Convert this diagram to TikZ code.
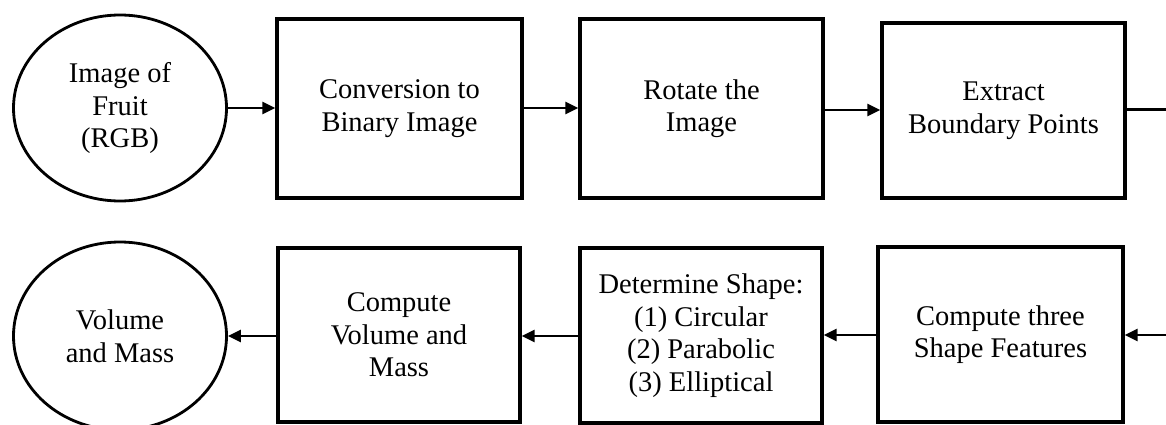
\documentclass[tikz,border=0pt]{standalone}
\usepackage{fontspec}
\setmainfont{Liberation Serif}
\usetikzlibrary{shapes.geometric,arrows.meta}

\begin{document}
\begin{tikzpicture}[x=1pt,y=-1pt,
  every node/.style={font=\fontsize{28.5}{32.5}\selectfont, align=center, inner sep=0pt},
  stepbox/.style={draw, line width=3.4pt, rectangle},
  terminal/.style={draw, line width=2.8pt, ellipse},
  flow/.style={line width=2.8pt, -{Triangle[length=13pt,width=12pt]}}
]
\useasboundingbox (0,0) rectangle (1166,425);

% upper row, left to right
\node[terminal, minimum width=213pt, minimum height=186pt] (img) at (120,108) {Image of\\Fruit\\(RGB)};
\node[stepbox, minimum width=245pt, minimum height=179pt] (conv) at (399.5,108.5) {Conversion to\\Binary Image};
\node[stepbox, minimum width=243pt, minimum height=179pt] (rot) at (701.5,108.5) {Rotate the\\Image};
\node[stepbox, minimum width=243pt, minimum height=175pt] (ext) at (1003.5,110.5) {Extract\\Boundary Points};

% lower row, right to left
\node[stepbox, minimum width=245pt, minimum height=175pt] (feat) at (1000.5,334.5) {Compute three\\Shape Features};
\node[stepbox, minimum width=242pt, minimum height=175pt] (det) at (701,335.5) {Determine Shape:\\(1) Circular\\(2) Parabolic\\(3) Elliptical};
\node[stepbox, minimum width=242pt, minimum height=174pt] (comp) at (399,335) {Compute\\Volume and\\Mass};
\node[terminal, minimum width=213pt, minimum height=188pt] (vm) at (120,336) {Volume\\and Mass};

% loose ends at the right border
\coordinate (outR) at (1166,109.5);
\coordinate (inR) at (1166,335);

% connectors
\draw[flow] (img.east) -- (conv.west |- img.east);
\draw[flow] (conv.east |- 0,108) -- (rot.west |- 0,108);
\draw[flow] (rot.east |- 0,110) -- (ext.west |- 0,110);
\draw[line width=2.2pt] (ext.east |- outR) -- (outR);
\draw[flow] (inR) -- (feat.east |- inR);
\draw[flow] (feat.west |- inR) -- (det.east |- inR);
\draw[flow] (det.west |- 0,336) -- (comp.east |- 0,336);
\draw[flow] (comp.west |- vm.west) -- (vm.west -| vm.east);
\end{tikzpicture}
\end{document}
